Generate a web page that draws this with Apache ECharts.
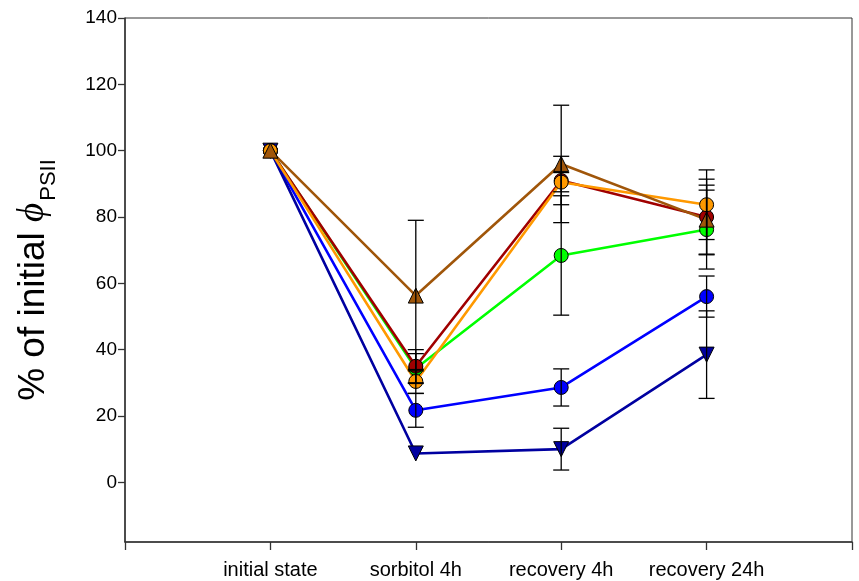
<!DOCTYPE html>
<html>
<head>
<meta charset="utf-8">
<script src="https://cdn.jsdelivr.net/npm/echarts@6/dist/echarts.min.js"></script>
<style>
html,body{margin:0;padding:0;background:#fff;}
#chart{width:859px;height:581px;}
</style>
</head>
<body>
<div id="chart"></div>
<script>
// Categories (x positions 0..3)
const categories = ['initial state', 'sorbitol 4h', 'recovery 4h', 'recovery 24h'];
const yTickValues = [0, 20, 40, 60, 80, 100, 120, 140];

// Series values (% of initial phi PSII) and symmetric errors
const greenVals   = [100, 34.3, 68.4, 76.2];
const greenErr    = [0, 4.5, 18.0, 11.9];
const blueVals    = [100, 21.7, 28.6, 56.0];
const blueErr     = [0, 5.1, 5.6, 6.2];
const navyVals    = [100, 8.7, 10.0, 38.5];
const navyErr     = [0, 0, 6.3, 13.2];
const darkRedVals = [100, 35.0, 91.0, 80.0];
const darkRedErr  = [0, 5.0, 7.3, 11.4];
const orangeVals  = [100, 30.4, 90.5, 83.7];
const orangeErr   = [0, 3.6, 2.9, 10.5];
const brownVals   = [100, 56.3, 96.0, 79.2];
const brownErr    = [0, 22.7, 17.7, 10.4];

const seriesDefs = [
  {name: 'green',   vals: greenVals,   err: greenErr,   color: '#00ff00', symbol: 'circle',   rot: 0},
  {name: 'blue',    vals: blueVals,    err: blueErr,    color: '#0000ff', symbol: 'circle',   rot: 0},
  {name: 'navy',    vals: navyVals,    err: navyErr,    color: '#0000a0', symbol: 'triangle', rot: 180},
  {name: 'darkred', vals: darkRedVals, err: darkRedErr, color: '#a00000', symbol: 'circle',   rot: 0},
  {name: 'orange',  vals: orangeVals,  err: orangeErr,  color: '#ff9900', symbol: 'circle',   rot: 0},
  {name: 'brown',   vals: brownVals,   err: brownErr,   color: '#a0560a', symbol: 'triangle', rot: 0}
];

const chart = echarts.init(document.getElementById('chart'), null, {renderer: 'canvas'});

const series = [];
seriesDefs.forEach(function (d) {
  series.push({
    name: d.name,
    type: 'line',
    data: d.vals.map(function (v, i) { return [i, v]; }),
    symbol: d.symbol,
    symbolRotate: d.rot,
    symbolSize: d.symbol === 'circle' ? 14 : 15,
    showAllSymbol: true,
    lineStyle: {color: d.color, width: 2.6},
    itemStyle: {color: d.color, borderColor: '#000', borderWidth: 1},
    z: 3,
    animation: false
  });
});

// Error bars drawn on top
const errData = [];
seriesDefs.forEach(function (d) {
  d.vals.forEach(function (v, i) {
    if (d.err[i] > 0) errData.push([i, v - d.err[i], v + d.err[i]]);
  });
});
series.push({
  type: 'custom',
  data: errData,
  z: 5,
  animation: false,
  renderItem: function (params, api) {
    const x = api.value(0);
    const lo = api.coord([x, api.value(1)]);
    const hi = api.coord([x, api.value(2)]);
    const hw = 8;
    const st = {stroke: '#000', lineWidth: 1.3};
    return {
      type: 'group',
      children: [
        {type: 'line', shape: {x1: lo[0], y1: lo[1], x2: hi[0], y2: hi[1]}, style: st},
        {type: 'line', shape: {x1: lo[0] - hw, y1: lo[1], x2: lo[0] + hw, y2: lo[1]}, style: st},
        {type: 'line', shape: {x1: hi[0] - hw, y1: hi[1], x2: hi[0] + hw, y2: hi[1]}, style: st}
      ]
    };
  }
});

chart.setOption({
  backgroundColor: '#fff',
  animation: false,
  grid: {left: 125, top: 18, right: 7, bottom: 39, show: true, borderColor: '#333', borderWidth: 1},
  xAxis: {
    type: 'value',
    min: -1, max: 4, interval: 1,
    splitLine: {show: false},
    axisLine: {onZero: false, lineStyle: {color: '#333', width: 1.5}},
    axisTick: {show: true, length: 8, inside: false, lineStyle: {color: '#333', width: 1.3}},
    axisLabel: {
      margin: 18,
      fontFamily: 'Liberation Sans, Arial, sans-serif',
      fontSize: 20, color: '#000',
      showMinLabel: true, showMaxLabel: true,
      formatter: function (v) { return (v >= 0 && v <= 3) ? categories[v] : ''; }
    }
  },
  yAxis: {
    type: 'value',
    min: -18, max: 140,
    splitLine: {show: false},
    axisLine: {onZero: false, lineStyle: {color: '#333', width: 1.5}},
    axisTick: {show: true, length: 7, customValues: yTickValues, lineStyle: {color: '#333', width: 1.3}},
    axisLabel: {
      customValues: yTickValues,
      margin: 8,
      fontFamily: 'Liberation Sans, Arial, sans-serif',
      fontSize: 19, color: '#000'
    },
    name: '{a|% of initial }{b|\u03d5}{c|PSII}',
    nameLocation: 'middle',
    nameGap: 73,
    nameRotate: 90,
    nameTextStyle: {
      rich: {
        a: {fontFamily: 'Liberation Sans, Arial, sans-serif', fontSize: 37, color: '#000', verticalAlign: 'bottom', lineHeight: 40},
        b: {fontFamily: 'Liberation Serif, Times New Roman, serif', fontStyle: 'italic', fontSize: 37, color: '#000', verticalAlign: 'bottom', lineHeight: 40},
        c: {fontFamily: 'Liberation Sans, Arial, sans-serif', fontSize: 22, color: '#000', verticalAlign: 'bottom', lineHeight: 30, padding: [0, 0, -8, 2]}
      }
    }
  },
  series: series
});
</script>
</body>
</html>
